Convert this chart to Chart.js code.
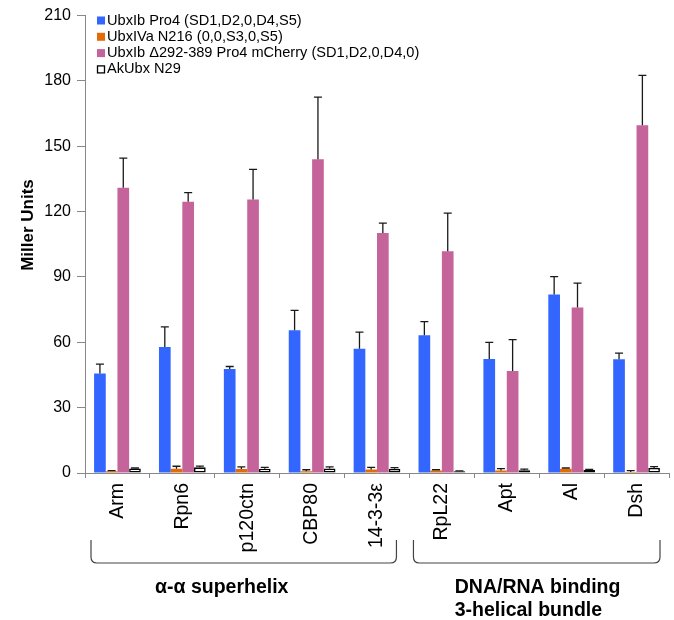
<!DOCTYPE html>
<html><head><meta charset="utf-8">
<script src="https://cdn.jsdelivr.net/npm/chart.js@4/dist/chart.umd.min.js"></script>
<style>html,body{margin:0;padding:0;background:#fff}#wrap{width:674px;height:620px;position:relative}</style>
</head><body><div id="wrap"><canvas id="c" width="674" height="620"></canvas></div>
<script>
const categories = ['Arm', 'Rpn6', 'p120ctn', 'CBP80', '14-3-3ε', 'RpL22', 'Apt', 'Al', 'Dsh'];
const seriesNames = ['UbxIb Pro4 (SD1,D2,0,D4,S5)', 'UbxIVa N216 (0,0,S3,0,S5)', 'UbxIb Δ292-389 Pro4 mCherry (SD1,D2,0,D4,0)', 'AkUbx N29'];
const pro4 = [45.7, 57.9, 47.8, 65.5, 57.1, 63.3, 52.3, 82.0, 52.2];
const pro4Err = [4.3, 9.2, 1.1, 9.2, 7.6, 6.2, 7.7, 8.2, 2.8];
const n216 = [0.8, 1.9, 1.8, 0.8, 1.6, 1.1, 1.2, 1.9, 0.5];
const n216Err = [0.3, 1.2, 1.0, 0.7, 1.0, 0.4, 0.8, 0.4, 0.6];
const mcherry = [131.0, 124.5, 125.6, 144.0, 110.2, 101.8, 46.8, 76.0, 159.7];
const mcherryErr = [13.6, 4.2, 13.8, 28.6, 4.5, 17.5, 14.4, 11.2, 22.9];
const n29 = [2.1, 2.6, 2.0, 2.1, 1.9, 0.8, 1.3, 1.4, 2.3];
const n29Err = [0.2, 0.6, 0.6, 0.7, 0.6, 0.2, 0.5, 0.3, 0.6];
const yMin = 0, yMax = 210, yStep = 30;
const yTitle = 'Miller Units';
const groupLabels = [['α-α superhelix'], ['DNA/RNA binding', '3-helical bundle']];
const groupRanges = [[0, 4], [5, 8]];

const FONT = "'Liberation Sans', Arial, sans-serif";
const colors = ['#3366ff', '#e36c0a', '#c4649a', '#ffffff'];
const errs = [pro4Err, n216Err, mcherryErr, n29Err];

const datasets = [pro4, n216, mcherry, n29].map((d, i) => ({
  label: seriesNames[i],
  data: d,
  backgroundColor: colors[i],
  borderColor: i === 3 ? '#000' : colors[i],
  borderWidth: i === 3 ? 1.6 : 0,
  borderSkipped: false,
  categoryPercentage: 0.72,
  barPercentage: 1.0
}));

const extras = {
  id: 'extras',
  afterDatasetsDraw(chart) {
    const ctx = chart.ctx, y = chart.scales.y;
    ctx.save();
    ctx.strokeStyle = '#1a1a1a';
    ctx.lineWidth = 1.3;
    chart.data.datasets.forEach((ds, i) => {
      const meta = chart.getDatasetMeta(i);
      meta.data.forEach((el, j) => {
        const top = y.getPixelForValue(ds.data[j] + errs[i][j]);
        ctx.beginPath();
        ctx.moveTo(el.x, el.y);
        ctx.lineTo(el.x, top);
        ctx.moveTo(el.x - 4, top);
        ctx.lineTo(el.x + 4, top);
        ctx.stroke();
      });
    });
    ctx.restore();
  },
  afterDraw(chart) {
    const ctx = chart.ctx, ca = chart.chartArea, x = chart.scales.x;
    ctx.save();
    // legend
    ctx.font = '14.6px ' + FONT;
    ctx.textBaseline = 'middle';
    ctx.textAlign = 'left';
    chart.data.datasets.forEach((ds, i) => {
      const ly = 20.5 + i * 16.3;
      const lx = ca.left + 12;
      if (i === 3) {
        ctx.fillStyle = '#fff';
        ctx.fillRect(lx, ly - 4, 8, 8);
        ctx.strokeStyle = '#000';
        ctx.lineWidth = 1.3;
        ctx.strokeRect(lx + 0.5, ly - 3.5, 7, 7);
      } else {
        ctx.fillStyle = ds.backgroundColor;
        ctx.fillRect(lx, ly - 4, 8, 8);
      }
      ctx.fillStyle = '#000';
      ctx.fillText(ds.label, lx + 10, ly);
    });
    // y title
    ctx.save();
    ctx.translate(28, 225);
    ctx.rotate(-Math.PI / 2);
    ctx.font = 'bold 17px ' + FONT;
    ctx.textAlign = 'center';
    ctx.fillStyle = '#000';
    ctx.fillText(yTitle, 0, 0);
    ctx.restore();
    // brackets
    const cw = x.getPixelForValue(1) - x.getPixelForValue(0);
    const bTop = 540, bBot = 563, r = 6;
    groupRanges.forEach((g, gi) => {
      const l = x.getPixelForValue(g[0]) - cw / 2 + (gi === 0 ? 6 : 4);
      const rr = x.getPixelForValue(g[1]) + cw / 2 - (gi === 0 ? 13 : 9);
      ctx.strokeStyle = '#444';
      ctx.lineWidth = 1.2;
      ctx.beginPath();
      ctx.moveTo(l, bTop);
      ctx.lineTo(l, bBot - r);
      ctx.quadraticCurveTo(l, bBot, l + r, bBot);
      ctx.lineTo(rr - r, bBot);
      ctx.quadraticCurveTo(rr, bBot, rr, bBot - r);
      ctx.lineTo(rr, bTop);
      ctx.stroke();
      ctx.font = 'bold 19.5px ' + FONT;
      ctx.fillStyle = '#000';
      ctx.textBaseline = 'middle';
      const cx = (l + rr) / 2 + (gi === 0 ? -22 : 0);
      groupLabels[gi].forEach((t, k) => {
        ctx.textAlign = gi === 0 ? 'center' : 'left';
        const tx = gi === 0 ? cx : cx - 82;
        ctx.fillText(t, tx, 588 + k * 23);
      });
    });
    ctx.restore();
  }
};

new Chart(document.getElementById('c'), {
  type: 'bar',
  data: { labels: categories, datasets },
  plugins: [extras],
  options: {
    responsive: false,
    animation: false,
    layout: { padding: { top: 10, right: 5, left: 0, bottom: 0 } },
    plugins: { legend: { display: false }, tooltip: { enabled: false } },
    scales: {
      x: {
        grid: { display: true, drawOnChartArea: false, drawTicks: true, tickLength: 5, offset: true, color: '#888' },
        border: { color: '#888', width: 1 },
        ticks: { minRotation: 90, maxRotation: 90, autoSkip: false, padding: 5, color: '#000', font: { size: 19.5, family: FONT } },
        afterFit(s) { s.height = 147; }
      },
      y: {
        min: yMin, max: yMax,
        grid: { display: true, drawOnChartArea: false, drawTicks: true, tickLength: 8, color: '#888' },
        border: { color: '#888', width: 1 },
        ticks: { stepSize: yStep, padding: 6, color: '#000', font: { size: 16, family: FONT } },
        afterFit(s) { s.width = 85; }
      }
    }
  }
});
</script>
</body></html>
